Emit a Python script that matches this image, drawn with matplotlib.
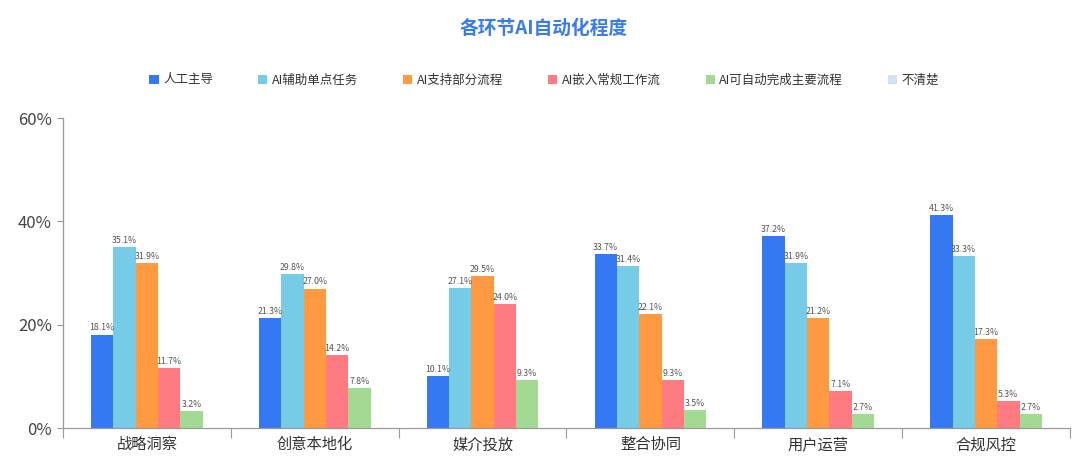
import matplotlib
matplotlib.use("Agg")
import matplotlib.pyplot as plt
from matplotlib.patches import Patch
from matplotlib.ticker import FixedLocator, FuncFormatter
import numpy as np

plt.rcParams['font.family'] = ['Noto Sans CJK SC', 'DejaVu Sans']

title = "各环节AI自动化程度"
categories = ["战略洞察", "创意本地化", "媒介投放", "整合协同", "用户运营", "合规风控"]
series_names = ["人工主导", "AI辅助单点任务", "AI支持部分流程", "AI嵌入常规工作流", "AI可自动完成主要流程", "不清楚"]
manual_led = [18.1, 21.3, 10.1, 33.7, 37.2, 41.3]
ai_assist_single = [35.1, 29.8, 27.1, 31.4, 31.9, 33.3]
ai_support_partial = [31.9, 27.0, 29.5, 22.1, 21.2, 17.3]
ai_embedded = [11.7, 14.2, 24.0, 9.3, 7.1, 5.3]
ai_auto_main = [3.2, 7.8, 9.3, 3.5, 2.7, 2.7]
unclear = [0, 0, 0, 0, 0, 0]
colors = ["#3478F2", "#76CCE6", "#FF9A42", "#FF7B82", "#A3D993", "#CFE2F8"]
y_ticks = [0, 20, 40, 60]

series = [manual_led, ai_assist_single, ai_support_partial, ai_embedded, ai_auto_main, unclear]

fig = plt.figure(figsize=(10.8, 4.76), dpi=100)
ax = fig.add_axes([0.0583, 0.1008, 0.9324, 0.6512])

x = np.arange(len(categories))
n_vis = 5
width = 0.133
for i in range(len(series)):
    vals = series[i]
    if all(v == 0 for v in vals):
        continue
    offs = (i - (n_vis - 1) / 2) * width
    bars = ax.bar(x + offs, vals, width=width, color=colors[i], linewidth=0, zorder=2)
    for b, v in zip(bars, vals):
        ax.text(b.get_x() + b.get_width() / 2, v + 0.4, f"{v:.1f}%", ha="center", va="bottom",
                fontsize=6.3, color="#555555")

ax.set_xlim(-0.5, len(categories) - 0.5)
ax.set_ylim(0, 60)
ax.set_yticks(y_ticks)
ax.yaxis.set_major_formatter(FuncFormatter(lambda v, p: f"{v:.0f}%"))
ax.set_xticks(x)
ax.set_xticklabels(categories, fontsize=11, color="#333333")
ax.xaxis.set_minor_locator(FixedLocator(np.arange(-0.5, len(categories), 1.0)))
ax.tick_params(axis="x", which="major", length=0, pad=6)
ax.tick_params(axis="x", which="minor", length=7, color="#999999", width=0.8)
ax.tick_params(axis="y", length=4, color="#999999", width=0.8, labelsize=12, labelcolor="#444444", pad=4)

for s in ["top", "right"]:
    ax.spines[s].set_visible(False)
for s in ["left", "bottom"]:
    ax.spines[s].set_color("#999999")
    ax.spines[s].set_linewidth(0.9)

handles = [Patch(facecolor=c, edgecolor="none") for c in colors]
fig.legend(handles, series_names, loc="center", bbox_to_anchor=(0.504, 0.832), ncol=6,
           frameon=False, fontsize=9, handlelength=0.75, handleheight=0.75,
           handletextpad=0.35, columnspacing=3.6, labelcolor="#333333")

fig.text(0.503, 0.94, title, ha="center", va="center", fontsize=13.5, fontweight="bold", color="#3A7BEA")

fig.savefig("out.png", dpi=100, facecolor="white")
